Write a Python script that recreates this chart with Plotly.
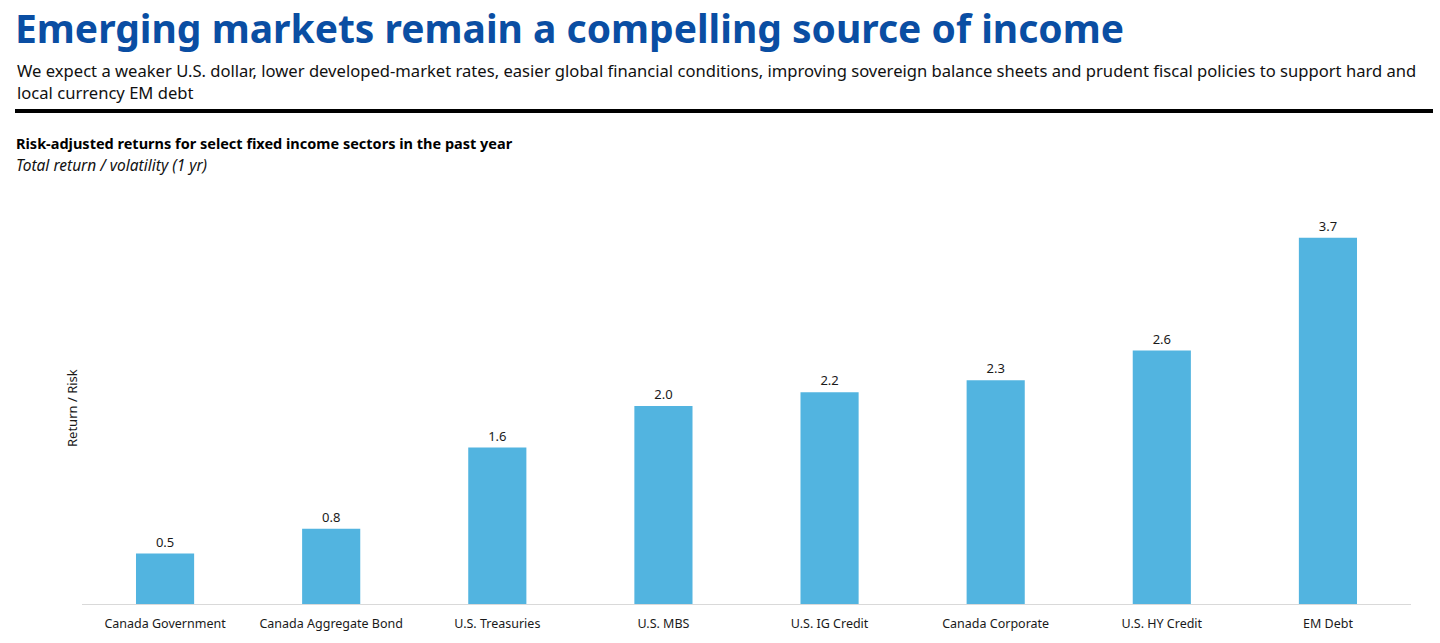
import plotly.graph_objects as go

categories = ["Canada Government", "Canada Aggregate Bond", "U.S. Treasuries", "U.S. MBS",
              "U.S. IG Credit", "Canada Corporate", "U.S. HY Credit", "EM Debt"]
values = [0.51, 0.76, 1.58, 2.00, 2.14, 2.26, 2.56, 3.70]
value_labels = ["0.5", "0.8", "1.6", "2.0", "2.2", "2.3", "2.6", "3.7"]

W, H = 1440, 643
L, R, T, B = 82, 29, 208, 39
PH = H - T - B
PW = W - L - R

def py(p):  # pixel y -> paper y
    return (H - B - p) / PH

def px(p):  # pixel x -> paper x
    return (p - L) / PW

FONT = "Noto Sans"

fig = go.Figure()
fig.add_trace(go.Bar(
    x=categories, y=values, text=value_labels, textposition="outside",
    textfont=dict(family=FONT, size=13, color="#1a1a1a"),
    marker=dict(color="#52B4E0", line=dict(width=0)),
    cliponaxis=False, hoverinfo="skip",
))

fig.update_layout(
    width=W, height=H,
    margin=dict(l=L, r=R, t=T, b=B),
    paper_bgcolor="white", plot_bgcolor="white",
    bargap=0.65, showlegend=False,
    font=dict(family=FONT, color="#1a1a1a"),
    xaxis=dict(showline=True, linecolor="#D9D9D9", linewidth=1, ticks="",
               ticklabelstandoff=8,
               tickfont=dict(family=FONT, size=12.5, color="#1a1a1a"), showgrid=False),
    yaxis=dict(range=[0, 4.0], showticklabels=False, showgrid=False, zeroline=False,
               showline=False, ticks=""),
)

anns = [
    dict(text="<b>Emerging markets remain a compelling source of income</b>", x=px(13), y=py(28),
         font=dict(family=FONT, size=39, color="#0A4EA3")),
    dict(text="We expect a weaker U.S. dollar, lower developed-market rates, easier global financial conditions, improving sovereign balance sheets and prudent fiscal policies to support hard and",
         x=px(15), y=py(71), font=dict(family=FONT, size=16.6, color="#111111")),
    dict(text="local currency EM debt", x=px(15), y=py(93), font=dict(family=FONT, size=16.6, color="#111111")),
    dict(text="<b>Risk-adjusted returns for select fixed income sectors in the past year</b>", x=px(14), y=py(143),
         font=dict(family=FONT, size=14.5, color="#000000")),
    dict(text="<i>Total return / volatility (1 yr)</i>", x=px(14), y=py(165),
         font=dict(family=FONT, size=15.5, color="#111111")),
]
annotations = []
for a in anns:
    a.update(xref="paper", yref="paper", xanchor="left", yanchor="middle", showarrow=False)
    annotations.append(a)
annotations.append(dict(text="Return / Risk", xref="paper", yref="paper", x=px(72), y=py(408),
                        textangle=-90, showarrow=False, xanchor="center", yanchor="middle",
                        font=dict(family=FONT, size=13, color="#1a1a1a")))
fig.update_layout(annotations=annotations)

fig.add_shape(type="line", xref="paper", yref="paper", x0=px(15), x1=px(1433), y0=py(111), y1=py(111),
              line=dict(color="black", width=4))

fig.write_html("out.html", config={"displayModeBar": False},
               post_script="document.body.style.margin='0';")
